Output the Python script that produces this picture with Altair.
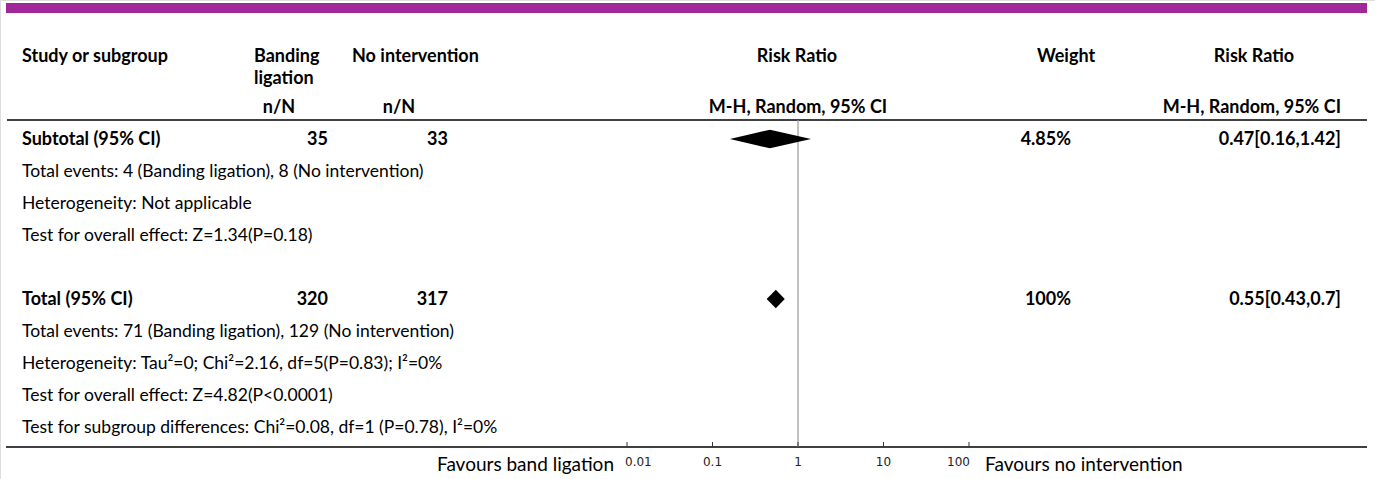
import altair as alt
import pandas as pd

FONT = "Lato"
FS = 17.5
FSB = 18

# ---- data ----
row_labels = [
    "Subtotal (95% CI)",
    "Total events: 4 (Banding ligation), 8 (No intervention)",
    "Heterogeneity: Not applicable",
    "Test for overall effect: Z=1.34(P=0.18)",
    "",
    "Total (95% CI)",
    "Total events: 71 (Banding ligation), 129 (No intervention)",
    "Heterogeneity: Tau\u00b2=0; Chi\u00b2=2.16, df=5(P=0.83); I\u00b2=0%",
    "Test for overall effect: Z=4.82(P<0.0001)",
    "Test for subgroup differences: Chi\u00b2=0.08, df=1 (P=0.78), I\u00b2=0%",
]
row_bold = [True, False, False, False, False, True, False, False, False, False]

summary_names = ["Subtotal (95% CI)", "Total (95% CI)"]
summary_rows = [0, 5]
n_banding = [35, 320]
n_none = [33, 317]
rr = [0.47, 0.55]
rr_lo = [0.16, 0.43]
rr_hi = [1.42, 0.7]
weights = ["4.85%", "100%"]
rr_text = ["0.47[0.16,1.42]", "0.55[0.43,0.7]"]

tick_values = [0.01, 0.1, 1, 10, 100]
tick_labels = ["0.01", "0.1", "1", "10", "100"]

# ---- tables ----
rows_df = pd.DataFrame({"row": list(range(len(row_labels))), "label": row_labels, "bold": row_bold})
sum_df = pd.DataFrame({
    "name": summary_names, "row": summary_rows, "nb": n_banding, "nn": n_none,
    "w": weights, "rrt": rr_text,
})
H = 0.29
dia = []
for k, (nm, r, e, lo, hi) in enumerate(zip(summary_names, summary_rows, rr, rr_lo, rr_hi)):
    dia.append({"k": k, "px": lo, "ya": r, "yb": r})
    dia.append({"k": k, "px": e, "ya": r - H, "yb": r + H})
    dia.append({"k": k, "px": hi, "ya": r, "yb": r})
dia_df = pd.DataFrame(dia)
ticks_df = pd.DataFrame({"v": tick_values, "t": tick_labels, "i": list(range(len(tick_values)))})

xs = alt.Scale(type="log", domain=[0.01, 100], range=[627, 969], nice=False)
ys = alt.Scale(domain=[0, 1], range=[139, 171], zero=False, nice=False)

def X(f):
    return alt.X(f, type="quantitative", scale=xs, axis=None)

def Y(f):
    return alt.Y(f, type="quantitative", scale=ys, axis=None, stack=None)

txt = dict(font=FONT, fontSize=FS, baseline="middle", color="#000", dy=1)
txtb = dict(font=FONT, fontSize=FSB, baseline="middle", color="#000", dy=1, fontWeight="bold")

layers = []

# purple top band
layers.append(alt.Chart(pd.DataFrame({"a": [0]})).mark_rect(color="#A0289A").encode(
    x=alt.value(6), x2=alt.value(1367), y=alt.value(3), y2=alt.value(13)))

# header texts
hdr = [("Study or subgroup", 22, 56, "left"), ("Banding", 254, 56, "left"),
       ("ligation", 254, 78, "left"), ("No intervention", 352, 56, "left"),
       ("n/N", 279, 107, "center"), ("n/N", 399, 107, "center"),
       ("Risk Ratio", 797, 56, "center"), ("Weight", 1066, 56, "center"),
       ("Risk Ratio", 1254, 56, "center"), ("M-H, Random, 95% CI", 798, 107, "center"),
       ("M-H, Random, 95% CI", 1341, 107, "right")]
for t, x, y, al in hdr:
    layers.append(alt.Chart(pd.DataFrame({"t": [t]})).mark_text(align=al, **txtb).encode(
        text="t:N", x=alt.value(x), y=alt.value(y)))

# separator lines
layers.append(alt.Chart(pd.DataFrame({"a": [0]})).mark_rule(color="#000", strokeWidth=1.5).encode(
    x=alt.value(7), x2=alt.value(1367), y=alt.value(120)))
layers.append(alt.Chart(pd.DataFrame({"a": [0]})).mark_rule(color="#000", strokeWidth=1.5).encode(
    x=alt.value(6), x2=alt.value(1367), y=alt.value(447)))

# null line at RR = 1
layers.append(alt.Chart(pd.DataFrame({"v": [1]})).mark_rule(color="#999", strokeWidth=1.2).encode(
    x=X("v"), y=alt.value(120), y2=alt.value(447)))

# row labels
layers.append(alt.Chart(rows_df).transform_filter("datum.bold").mark_text(
    align="left", **txtb).encode(text="label:N", x=alt.value(22), y=Y("row")))
layers.append(alt.Chart(rows_df).transform_filter("!datum.bold").mark_text(
    align="left", **txt).encode(text="label:N", x=alt.value(22), y=Y("row")))

# summary numbers
for fld, xp in [("nb:N", 328), ("nn:N", 448), ("w:N", 1071), ("rrt:N", 1341)]:
    layers.append(alt.Chart(sum_df).mark_text(align="right", **txtb).encode(
        text=fld, x=alt.value(xp), y=Y("row")))

# diamonds (one area layer per pooled estimate)
for k in range(len(summary_names)):
    layers.append(alt.Chart(dia_df).transform_filter(f"datum.k == {k}").mark_area(
        color="#000", opacity=1).encode(x=X("px"), y=Y("ya"), y2=alt.Y2("yb")))

# axis ticks and labels (first/last label flush with the axis ends)
layers.append(alt.Chart(ticks_df).mark_rule(color="#333", strokeWidth=1).encode(
    x=X("v"), y=alt.value(442), y2=alt.value(447)))
nt = len(tick_values) - 1
for cond, al, dx in [("datum.i == 0", "left", -2), (f"datum.i > 0 && datum.i < {nt}", "center", 0),
                     (f"datum.i == {nt}", "right", 1)]:
    layers.append(alt.Chart(ticks_df).transform_filter(cond).mark_text(
        font="DejaVu Sans", fontSize=12, baseline="middle", color="#222", align=al, dx=dx).encode(
        x=X("v"), y=alt.value(462), text="t:N"))

# favours labels
layers.append(alt.Chart(pd.DataFrame({"t": ["Favours band ligation"]})).mark_text(
    align="right", font=FONT, fontSize=19, baseline="middle", color="#000").encode(
    text="t:N", x=alt.value(614), y=alt.value(465)))
layers.append(alt.Chart(pd.DataFrame({"t": ["Favours no intervention"]})).mark_text(
    align="left", font=FONT, fontSize=19, baseline="middle", color="#000").encode(
    text="t:N", x=alt.value(985), y=alt.value(465)))

chart = alt.layer(*layers).properties(
    width=1375, height=479, padding=0, autosize=alt.AutoSizeParams(type="none")
).configure_view(stroke=None).configure(background="white")

chart.save("out.html", embed_options={"renderer": "svg", "actions": False})
